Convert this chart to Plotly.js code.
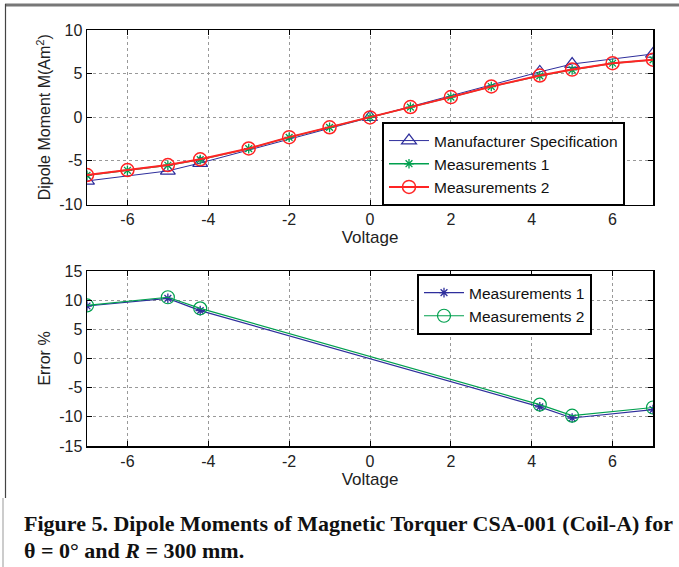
<!DOCTYPE html>
<html>
<head>
<meta charset="utf-8">
<script src="https://cdn.plot.ly/plotly-3.0.1.min.js"></script>
<style>html,body{margin:0;padding:0;background:#fff;}#chart{width:679px;height:567px;}</style>
</head>
<body>
<div id="chart"></div>
<script>
// ---- data ----
const voltage = [-7, -6, -5, -4.2, -3, -2, -1, 0, 1, 2, 3, 4.2, 5, 6, 7];
const specVoltage = [-7, -5, -4.2, 0, 4.2, 5, 7];
const specMoment = [-7.3, -6.15, -5.25, 0, 5.2, 6.1, 7.25];
const meas1Moment = [-6.65, -6.08, -5.5, -4.86, -3.6, -2.3, -1.16, 0, 1.16, 2.3, 3.52, 4.74, 5.43, 6.19, 6.57];
const meas2Moment = [-6.62, -6.05, -5.48, -4.82, -3.58, -2.28, -1.15, -0.02, 1.17, 2.31, 3.53, 4.78, 5.46, 6.2, 6.6];
const errVoltage = [-7, -5, -4.2, 4.2, 5, 7];
const err1 = [9.0, 10.3, 8.2, -8.3, -10.2, -8.75];
const err2 = [9.1, 10.5, 8.6, -7.9, -9.8, -8.4];
const xTicks = [-6, -4, -2, 0, 2, 4, 6];
const xTickText = ['-6', '-4', '-2', '0', '2', '4', '6'];
const yTicksTop = [-10, -5, 0, 5, 10];
const yTickTextTop = ['-10', '-5', '0', '5', '10'];
const yTicksBottom = [-15, -10, -5, 0, 5, 10, 15];
const yTickTextBottom = ['-15', '-10', '-5', '0', '5', '10', '15'];
const names = ['Manufacturer Specification', 'Measurements 1', 'Measurements 2'];

const BLUE = '#2e2e9c', GREEN = '#00a04e', RED = '#ff2424';
const W = 679, H = 567;
const px = v => v / W, py = v => 1 - v / H;

const traces = [
  {x: specVoltage, y: specMoment, name: names[0], mode: 'lines+markers', xaxis: 'x', yaxis: 'y',
   line: {color: BLUE, width: 1}, marker: {symbol: 'triangle-up-open', size: 13, color: BLUE, line: {width: 1.2, color: BLUE}}},
  {x: voltage, y: meas1Moment, name: names[1], mode: 'lines+markers', xaxis: 'x', yaxis: 'y',
   line: {color: GREEN, width: 1.3}, marker: {symbol: 'asterisk-open', size: 8, color: GREEN, line: {width: 1.3, color: GREEN}}},
  {x: voltage, y: meas2Moment, name: names[2], mode: 'lines+markers', xaxis: 'x', yaxis: 'y',
   line: {color: RED, width: 2}, marker: {symbol: 'circle-open', size: 13, color: RED, line: {width: 1.5, color: RED}}},
  {x: errVoltage, y: err1, name: names[1], mode: 'lines+markers', xaxis: 'x2', yaxis: 'y2', legend: 'legend2',
   line: {color: BLUE, width: 1.2}, marker: {symbol: 'asterisk-open', size: 8, color: BLUE, line: {width: 1.3, color: BLUE}}},
  {x: errVoltage, y: err2, name: names[2], mode: 'lines+markers', xaxis: 'x2', yaxis: 'y2', legend: 'legend2',
   line: {color: GREEN, width: 1.2}, marker: {symbol: 'circle-open', size: 13, color: GREEN, line: {width: 1.2, color: GREEN}}}
];

const SANS = 'Liberation Sans, Arial, sans-serif';
const tickFont = {family: SANS, size: 16, color: '#222'};
const titleFont = {family: SANS, size: 17, color: '#222'};
function xa(anchor) {
  return {domain: [px(87), px(653)], anchor: anchor, range: [-7, 7], tickmode: 'array', tickvals: xTicks, ticktext: xTickText,
    showline: true, linecolor: '#000', linewidth: 1.5, mirror: 'ticks', ticks: 'inside', ticklen: 5, tickcolor: '#000',
    showgrid: true, gridcolor: '#999', griddash: 'dot', gridwidth: 1, zeroline: false,
    tickfont: tickFont, title: {text: 'Voltage', font: titleFont, standoff: 4}};
}
function ya(anchor, domain, range, tv, tt, title) {
  return {domain: domain, anchor: anchor, range: range, tickmode: 'array', tickvals: tv, ticktext: tt,
    showline: true, linecolor: '#000', linewidth: 1.5, mirror: 'ticks', ticks: 'inside', ticklen: 5, tickcolor: '#000',
    showgrid: true, gridcolor: '#999', griddash: 'dot', gridwidth: 1, zeroline: false,
    tickfont: tickFont, title: {text: title, font: {family: SANS, size: 16, color: '#222'}, standoff: 4}};
}

const legendFont = {family: SANS, size: 15.5, color: '#111'};
const layout = {
  width: W, height: H, margin: {l: 0, r: 0, t: 0, b: 0}, paper_bgcolor: '#fff', plot_bgcolor: '#fff',
  xaxis: xa('y'), yaxis: ya('x', [py(204.5), py(30)], [-10, 10], yTicksTop, yTickTextTop, 'Dipole Moment M(Am<sup>2</sup>)'),
  xaxis2: xa('y2'), yaxis2: ya('x2', [py(446), py(271)], [-15, 15], yTicksBottom, yTickTextBottom, 'Error %'),
  legend: {x: px(382), y: py(122), xanchor: 'left', yanchor: 'top', bgcolor: '#fff', bordercolor: '#000', borderwidth: 2,
    font: legendFont, tracegroupgap: 0, itemwidth: 40},
  legend2: {x: px(417), y: py(274), xanchor: 'left', yanchor: 'top', bgcolor: '#fff', bordercolor: '#000', borderwidth: 2,
    font: legendFont, tracegroupgap: 0, itemwidth: 40},
  shapes: [
    {type: 'line', xref: 'paper', yref: 'paper', x0: px(5), x1: 1, y0: py(5), y1: py(5), line: {color: '#777', width: 3}},
    {type: 'line', xref: 'paper', yref: 'paper', x0: px(5.5), x1: px(5.5), y0: py(4), y1: py(498), line: {color: '#444', width: 1.2}},
    {type: 'line', xref: 'paper', yref: 'paper', x0: px(3), x1: px(3), y0: py(498), y1: 0, line: {color: '#999', width: 1}}
  ],
  annotations: [
    {xref: 'paper', yref: 'paper', x: px(22), y: py(523), xanchor: 'left', yanchor: 'middle', showarrow: false,
     text: '<b>Figure 5. Dipole Moments of Magnetic Torquer CSA-001 (Coil-A) for</b>',
     font: {family: 'Liberation Serif, Times New Roman, serif', size: 22, color: '#111'}},
    {xref: 'paper', yref: 'paper', x: px(22), y: py(550), xanchor: 'left', yanchor: 'middle', showarrow: false,
     text: '<b>θ = 0° and <i>R</i> = 300 mm.</b>',
     font: {family: 'Liberation Serif, Times New Roman, serif', size: 22, color: '#111'}}
  ],
  showlegend: true
};

Plotly.newPlot('chart', traces, layout, {displayModeBar: false, staticPlot: true});
</script>
</body>
</html>
